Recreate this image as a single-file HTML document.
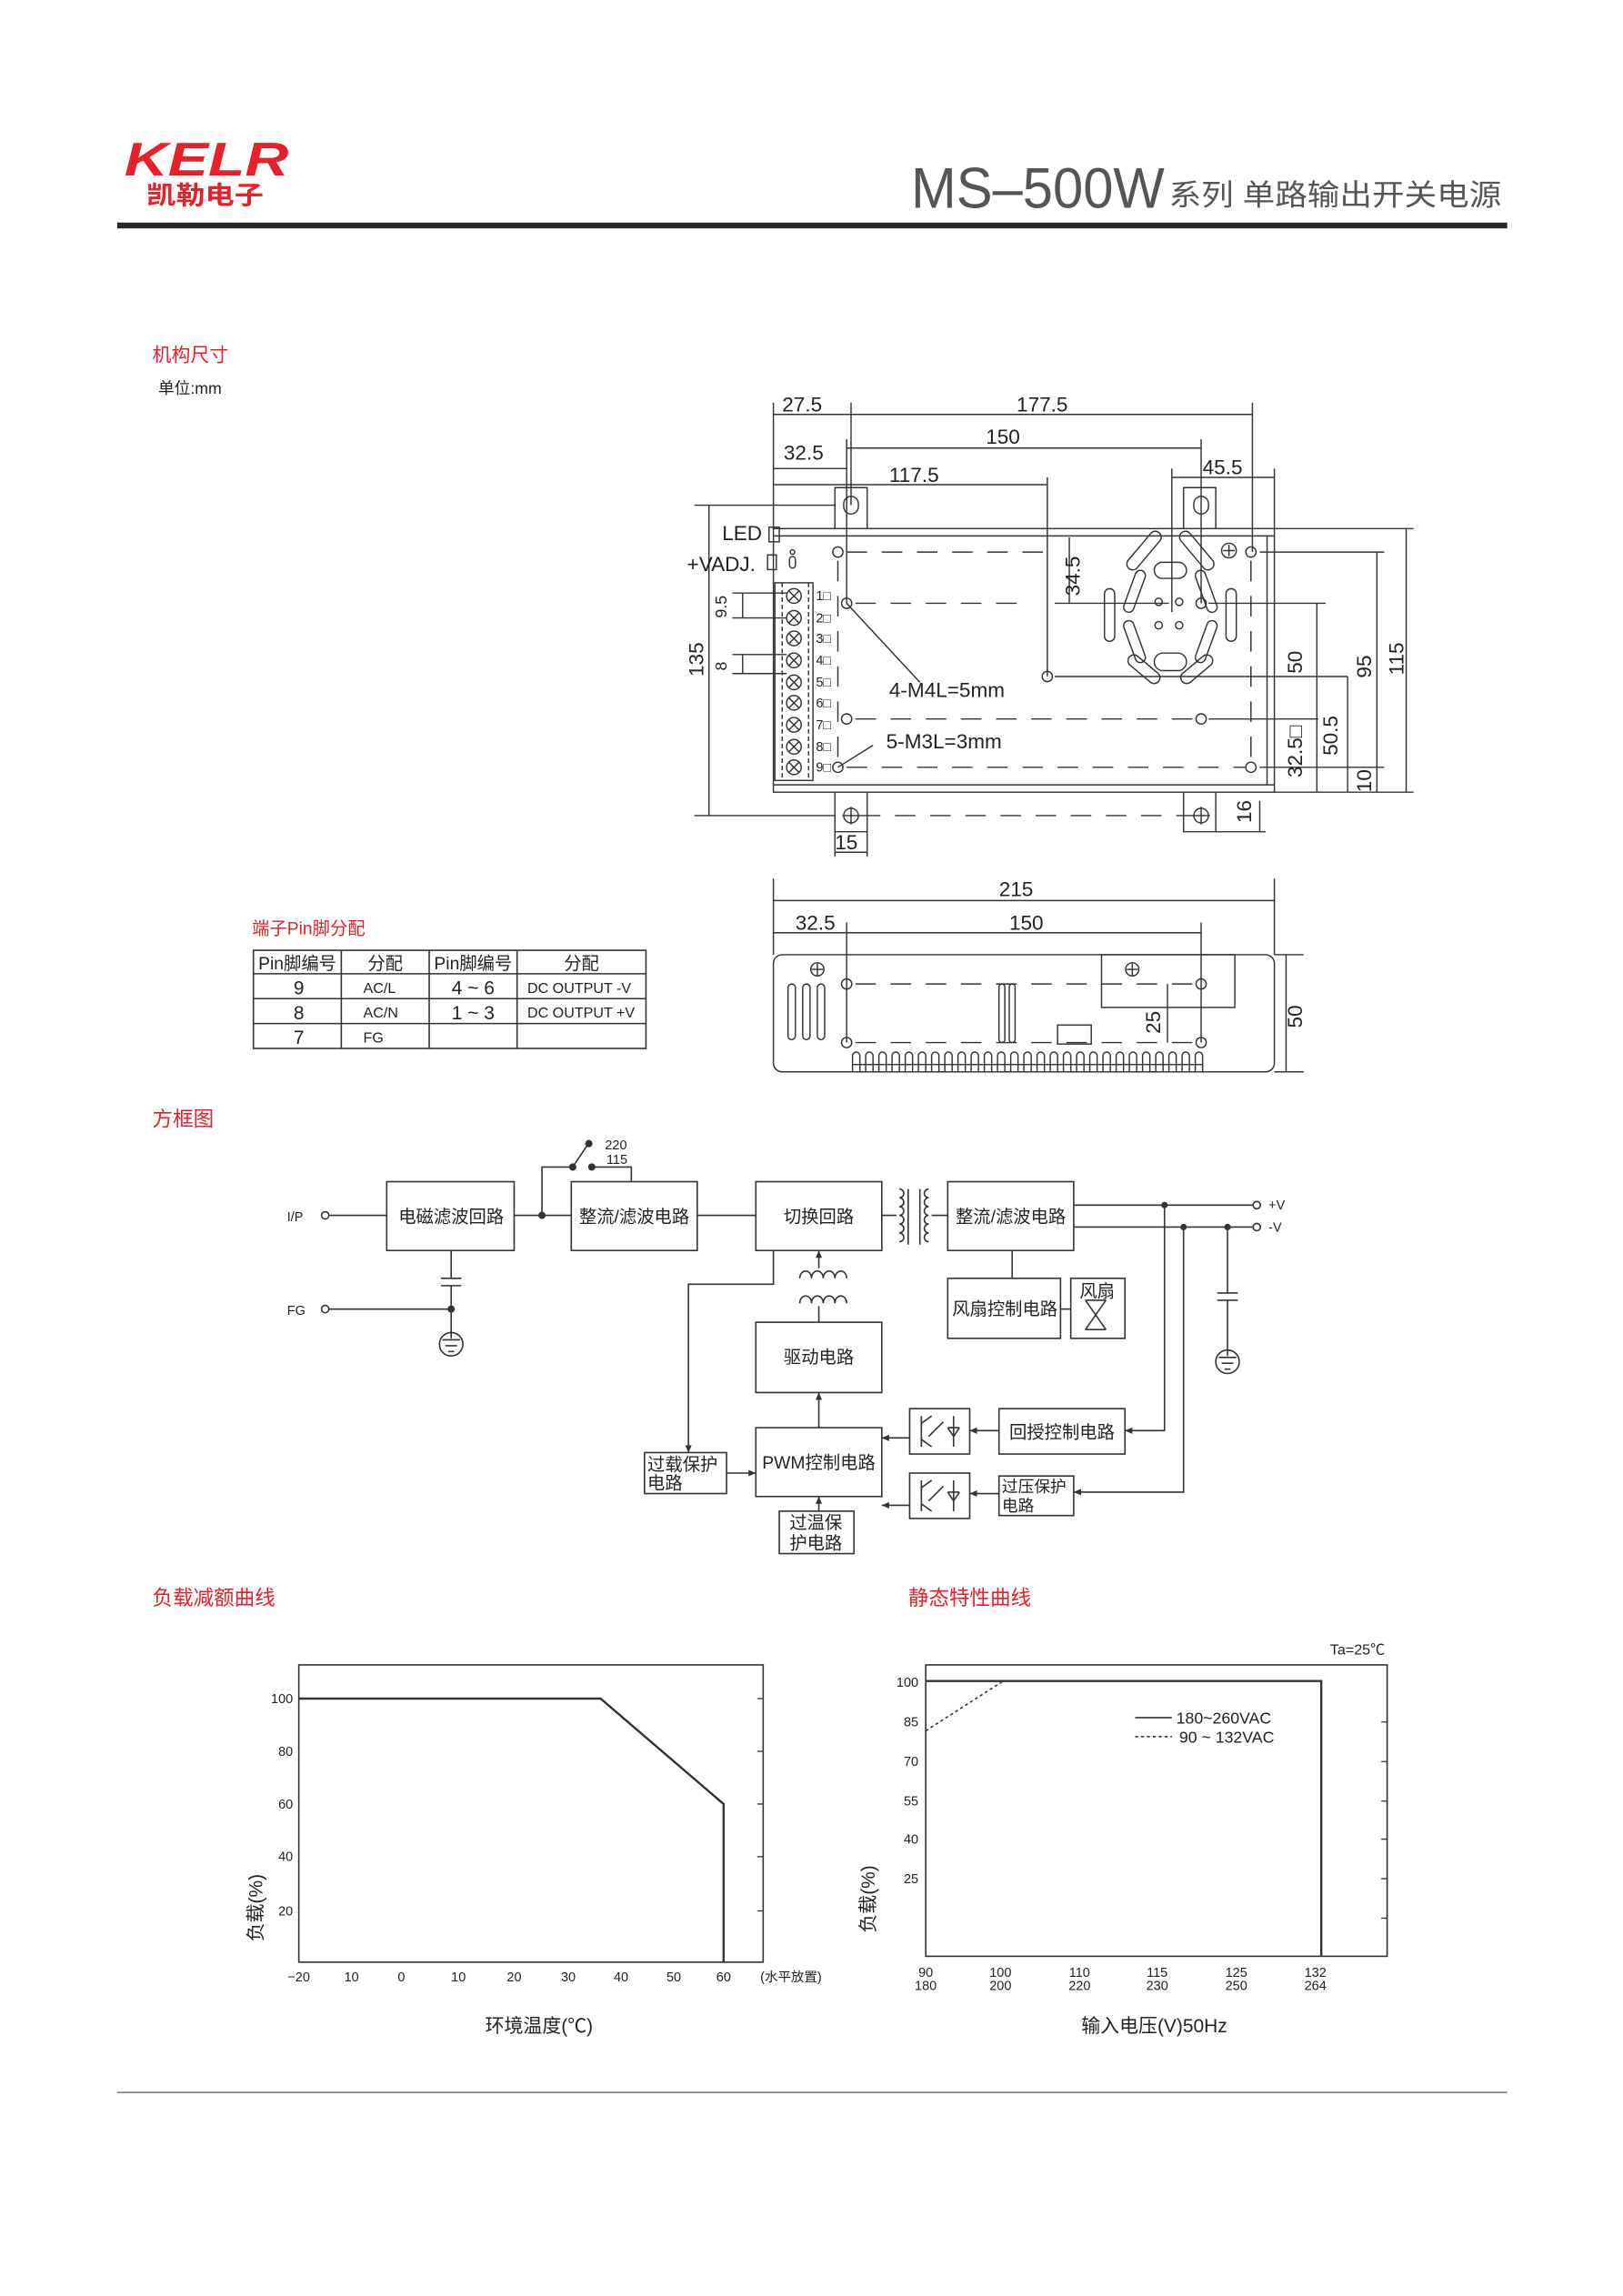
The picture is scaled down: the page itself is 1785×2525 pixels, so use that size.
<!DOCTYPE html>
<html><head><meta charset="utf-8"><style>
html,body{margin:0;padding:0;background:#fff}
svg{display:block}
text{font-family:"Liberation Sans","Noto Sans CJK SC",sans-serif;fill:#222}
</style></head><body>
<svg width="1785" height="2525" viewBox="0 0 1108 1568" preserveAspectRatio="none" xmlns="http://www.w3.org/2000/svg">
<g stroke="#333" stroke-width="1" fill="none">
<rect x="80" y="152" width="949" height="4" fill="#2a2626" stroke="none"/>
<line x1="80" y1="1429" x2="1029" y2="1429" stroke="#555" stroke-width="0.8"/>
</g>
<text x="85" y="120" font-size="32" font-style="italic" font-weight="bold" textLength="112" lengthAdjust="spacingAndGlyphs" style="fill:#e8202a">KELR</text>
<text x="100" y="139" font-size="17" font-weight="bold" textLength="80" lengthAdjust="spacingAndGlyphs" style="fill:#e8202a">凯勒电子</text>
<text x="622" y="142" font-size="39" textLength="173" lengthAdjust="spacingAndGlyphs" style="fill:#555">MS–500W</text>
<text x="798" y="140" font-size="20" textLength="227" lengthAdjust="spacingAndGlyphs" style="fill:#555">系列 单路输出开关电源</text>

<text x="104" y="247" font-size="13" style="fill:#e8202a">机构尺寸</text>
<text x="108" y="269" font-size="11">单位:mm</text>

<!-- ===== top view ===== -->
<g stroke="#333" stroke-width="0.9" fill="none">
<rect x="528" y="361" width="342" height="180"/>
<line x1="528" y1="366" x2="870" y2="366"/>
<line x1="528" y1="536" x2="870" y2="536"/>
<line x1="865" y1="366" x2="865" y2="536"/>
<path d="M570 361 V333 H592 V361"/><path d="M808 361 V333 H830 V361"/>
<path d="M570 541 V568 H592 V541"/><path d="M808 541 V568 H830 V541"/>
<rect x="576" y="339" width="10" height="12" rx="5"/><rect x="815" y="339" width="10" height="12" rx="5"/>
<circle cx="581" cy="557" r="5"/><line x1="575" y1="557" x2="587" y2="557"/><line x1="581" y1="551" x2="581" y2="563"/>
<circle cx="820" cy="557" r="5"/><line x1="814" y1="557" x2="826" y2="557"/><line x1="820" y1="551" x2="820" y2="563"/>
<rect x="525" y="360" width="7" height="10"/>
<rect x="524" y="379" width="6" height="10"/>
<circle cx="541" cy="377" r="1.5"/><rect x="539" y="380" width="4" height="8" rx="2"/>
<rect x="529" y="398" width="26" height="135"/>
<line x1="534" y1="398" x2="534" y2="533" stroke-dasharray="3,2"/>
<line x1="552" y1="398" x2="552" y2="533" stroke-dasharray="3,2"/>
<g>
<circle cx="542" cy="407" r="5"/><circle cx="542" cy="422" r="5"/><circle cx="542" cy="436" r="5"/><circle cx="542" cy="451" r="5"/><circle cx="542" cy="466" r="5"/><circle cx="542" cy="480" r="5"/><circle cx="542" cy="495" r="5"/><circle cx="542" cy="510" r="5"/><circle cx="542" cy="524" r="5"/>
<path d="M538.5 403.5l7 7m0-7l-7 7M538.5 418.5l7 7m0-7l-7 7M538.5 432.5l7 7m0-7l-7 7M538.5 447.5l7 7m0-7l-7 7M538.5 462.5l7 7m0-7l-7 7M538.5 476.5l7 7m0-7l-7 7M538.5 491.5l7 7m0-7l-7 7M538.5 506.5l7 7m0-7l-7 7M538.5 520.5l7 7m0-7l-7 7"/>
</g>
<g>
<circle cx="572" cy="377" r="3.5"/><circle cx="854" cy="377" r="3.5"/><circle cx="578" cy="412" r="3.5"/><circle cx="820" cy="412" r="3.5"/><circle cx="715" cy="462" r="3.5"/><circle cx="578" cy="491" r="3.5"/><circle cx="820" cy="491" r="3.5"/><circle cx="572" cy="524" r="3.5"/><circle cx="854" cy="524" r="3.5"/>
<circle cx="839" cy="376" r="5"/><path d="M839 372v8M835 376h8"/>
</g>
<g stroke-dasharray="14,10">
<line x1="578" y1="377" x2="720" y2="377"/><line x1="584" y1="412" x2="700" y2="412"/>
<line x1="584" y1="491" x2="815" y2="491"/><line x1="578" y1="524" x2="850" y2="524"/>
<line x1="572" y1="383" x2="572" y2="520"/><line x1="854" y1="383" x2="854" y2="520"/>
<line x1="587" y1="557" x2="815" y2="557"/>
</g>
<g>
<rect x="788" y="384" width="22" height="11" rx="5.5"/><rect x="788" y="446" width="22" height="12" rx="6"/>
<rect x="754" y="402" width="7" height="36" rx="3.5"/><rect x="837" y="402" width="7" height="36" rx="3.5"/>
<rect x="777" y="360" width="8" height="32" rx="4" transform="rotate(40 781 376)"/>
<rect x="813" y="360" width="8" height="32" rx="4" transform="rotate(-40 817 376)"/>
<rect x="771" y="389" width="7" height="30" rx="3.5" transform="rotate(20 775 404)"/>
<rect x="820" y="389" width="7" height="30" rx="3.5" transform="rotate(-20 823 404)"/>
<rect x="771" y="423" width="7" height="30" rx="3.5" transform="rotate(-20 775 438)"/>
<rect x="820" y="423" width="7" height="30" rx="3.5" transform="rotate(20 823 438)"/>
<rect x="777" y="444" width="8" height="26" rx="4" transform="rotate(-50 781 457)"/>
<rect x="813" y="444" width="8" height="26" rx="4" transform="rotate(50 817 457)"/>
<circle cx="791" cy="411" r="2.5"/><circle cx="805" cy="411" r="2.5"/><circle cx="791" cy="427" r="2.5"/><circle cx="805" cy="427" r="2.5"/>
</g>
<line x1="528" y1="275" x2="528" y2="361"/><line x1="581" y1="275" x2="581" y2="345"/>
<line x1="578" y1="300" x2="578" y2="412"/><line x1="820" y1="300" x2="820" y2="412"/>
<line x1="715" y1="326" x2="715" y2="462"/><line x1="800" y1="320" x2="800" y2="418"/>
<line x1="870" y1="320" x2="870" y2="361"/><line x1="855" y1="275" x2="855" y2="377"/>
<line x1="528" y1="283" x2="581" y2="283"/><line x1="581" y1="283" x2="855" y2="283"/>
<line x1="578" y1="306" x2="820" y2="306"/><line x1="528" y1="320" x2="578" y2="320"/>
<line x1="528" y1="331" x2="715" y2="331"/><line x1="800" y1="326" x2="870" y2="326"/>
<line x1="720" y1="412" x2="798" y2="412"/><line x1="730" y1="367" x2="730" y2="412"/>
<line x1="474" y1="345" x2="570" y2="345"/><line x1="474" y1="557" x2="570" y2="557"/>
<line x1="484" y1="345" x2="484" y2="557"/>
<line x1="500" y1="405" x2="537" y2="405"/><line x1="500" y1="422" x2="537" y2="422"/><line x1="507" y1="405" x2="507" y2="422"/>
<line x1="500" y1="447" x2="537" y2="447"/><line x1="500" y1="460" x2="537" y2="460"/><line x1="507" y1="447" x2="507" y2="460"/>
<line x1="578" y1="412" x2="628" y2="466"/><line x1="572" y1="524" x2="596" y2="509"/>
<line x1="870" y1="361" x2="965" y2="361"/><line x1="870" y1="541" x2="965" y2="541"/>
<line x1="860" y1="377" x2="945" y2="377"/><line x1="860" y1="524" x2="945" y2="524"/>
<line x1="825" y1="412" x2="905" y2="412"/><line x1="720" y1="462" x2="920" y2="462"/>
<line x1="825" y1="491" x2="900" y2="491"/>
<line x1="960" y1="361" x2="960" y2="541"/><line x1="940" y1="377" x2="940" y2="541"/>
<line x1="920" y1="462" x2="920" y2="541"/><line x1="899" y1="412" x2="899" y2="541"/>
<line x1="830" y1="568" x2="864" y2="568"/><line x1="860" y1="547" x2="860" y2="568"/>
<line x1="570" y1="568" x2="570" y2="585"/><line x1="592" y1="568" x2="592" y2="585"/><line x1="570" y1="582" x2="592" y2="582"/>
</g>
<g font-size="14">
<text x="534" y="281">27.5</text><text x="694" y="281">177.5</text><text x="673" y="303">150</text>
<text x="535" y="314">32.5</text><text x="607" y="329">117.5</text><text x="821" y="324">45.5</text>
<text x="493" y="369">LED</text><text x="469" y="390">+VADJ.</text>
<text x="607" y="476">4-M4L=5mm</text><text x="605" y="511">5-M3L=3mm</text>
<text x="570" y="580">15</text>
</g>
<g font-size="9"><text x="557" y="410">1□</text><text x="557" y="425">2□</text><text x="557" y="439">3□</text><text x="557" y="454">4□</text><text x="557" y="469">5□</text><text x="557" y="483">6□</text><text x="557" y="498">7□</text><text x="557" y="513">8□</text><text x="557" y="527">9□</text></g>
<g font-size="14">
<text transform="translate(480,462) rotate(-90)">135</text>
<text transform="translate(496,422) rotate(-90)" font-size="11">9.5</text>
<text transform="translate(496,458) rotate(-90)" font-size="11">8</text>
<text transform="translate(737,407) rotate(-90)">34.5</text>
<text transform="translate(889,460) rotate(-90)">50</text>
<text transform="translate(889,531) rotate(-90)">32.5□</text>
<text transform="translate(913,516) rotate(-90)">50.5</text>
<text transform="translate(936,463) rotate(-90)">95</text>
<text transform="translate(936,541) rotate(-90)">10</text>
<text transform="translate(958,461) rotate(-90)">115</text>
<text transform="translate(854,562) rotate(-90)">16</text>
</g>

<!-- ===== side view ===== -->
<g stroke="#333" stroke-width="0.9" fill="none">
<rect x="528" y="652" width="342" height="80" rx="6"/>
<line x1="528" y1="600" x2="528" y2="652"/><line x1="870" y1="600" x2="870" y2="652"/>
<line x1="528" y1="615" x2="870" y2="615"/>
<line x1="528" y1="637" x2="578" y2="637"/><line x1="578" y1="637" x2="820" y2="637"/>
<line x1="578" y1="630" x2="578" y2="712"/><line x1="820" y1="630" x2="820" y2="712"/>
<line x1="870" y1="652" x2="890" y2="652"/><line x1="870" y1="732" x2="890" y2="732"/><line x1="878" y1="652" x2="878" y2="732"/>
<line x1="797" y1="672" x2="797" y2="712"/>
<rect x="752" y="652" width="91" height="36"/>
<circle cx="558" cy="662" r="4.5"/><path d="M558 658v8M554 662h8"/>
<circle cx="773" cy="662" r="4.5"/><path d="M773 658v8M769 662h8"/>
<circle cx="578" cy="672" r="3.5"/><circle cx="820" cy="672" r="3.5"/><circle cx="578" cy="712" r="3.5"/><circle cx="820" cy="712" r="3.5"/>
<g stroke-dasharray="14,10"><line x1="584" y1="672" x2="815" y2="672"/><line x1="584" y1="712" x2="815" y2="712"/></g>
<rect x="538" y="672" width="5" height="38" rx="2.5"/><rect x="548" y="672" width="5" height="38" rx="2.5"/><rect x="558" y="672" width="5" height="38" rx="2.5"/>
<rect x="682" y="672" width="4" height="40" rx="2"/><rect x="689" y="672" width="4" height="40" rx="2"/>
<rect x="722" y="700" width="23" height="13"/>
<path d="M582 732V721a2.5 2.5 0 0 1 5 0V732M591 732V721a2.5 2.5 0 0 1 5 0V732M600 732V721a2.5 2.5 0 0 1 5 0V732M609 732V721a2.5 2.5 0 0 1 5 0V732M618 732V721a2.5 2.5 0 0 1 5 0V732M627 732V721a2.5 2.5 0 0 1 5 0V732M636 732V721a2.5 2.5 0 0 1 5 0V732M645 732V721a2.5 2.5 0 0 1 5 0V732M654 732V721a2.5 2.5 0 0 1 5 0V732M663 732V721a2.5 2.5 0 0 1 5 0V732M672 732V721a2.5 2.5 0 0 1 5 0V732M681 732V721a2.5 2.5 0 0 1 5 0V732M690 732V721a2.5 2.5 0 0 1 5 0V732M699 732V721a2.5 2.5 0 0 1 5 0V732M708 732V721a2.5 2.5 0 0 1 5 0V732M717 732V721a2.5 2.5 0 0 1 5 0V732M726 732V721a2.5 2.5 0 0 1 5 0V732M735 732V721a2.5 2.5 0 0 1 5 0V732M744 732V721a2.5 2.5 0 0 1 5 0V732M753 732V721a2.5 2.5 0 0 1 5 0V732M762 732V721a2.5 2.5 0 0 1 5 0V732M771 732V721a2.5 2.5 0 0 1 5 0V732M780 732V721a2.5 2.5 0 0 1 5 0V732M789 732V721a2.5 2.5 0 0 1 5 0V732M798 732V721a2.5 2.5 0 0 1 5 0V732M807 732V721a2.5 2.5 0 0 1 5 0V732M816 732V721a2.5 2.5 0 0 1 5 0V732"/>
<line x1="582" y1="727" x2="821" y2="727"/>
</g>
<g font-size="14"><text x="682" y="612">215</text><text x="543" y="635">32.5</text><text x="689" y="635">150</text>
<text transform="translate(792,706) rotate(-90)">25</text><text transform="translate(889,702) rotate(-90)">50</text></g>

<!-- ===== pin table ===== -->
<text x="172" y="638" font-size="12" style="fill:#e8202a">端子Pin脚分配</text>
<g stroke="#333" stroke-width="1" fill="none">
<rect x="173" y="649" width="268" height="67"/>
<line x1="173" y1="665" x2="441" y2="665"/><line x1="173" y1="682" x2="441" y2="682"/><line x1="173" y1="699" x2="441" y2="699"/>
<line x1="233" y1="649" x2="233" y2="716"/><line x1="293" y1="649" x2="293" y2="716"/><line x1="353" y1="649" x2="353" y2="716"/>
</g>
<g font-size="12" text-anchor="middle">
<text x="203" y="662">Pin脚编号</text><text x="263" y="662">分配</text><text x="323" y="662">Pin脚编号</text><text x="397" y="662">分配</text>
<text x="204" y="679" font-size="13">9</text><text x="204" y="696" font-size="13">8</text><text x="204" y="713" font-size="13">7</text>
<text x="323" y="679" font-size="13">4 ~ 6</text><text x="323" y="696" font-size="13">1 ~ 3</text>
</g>
<g font-size="10"><text x="248" y="678">AC/L</text><text x="248" y="695">AC/N</text><text x="248" y="712">FG</text>
<text x="360" y="678">DC OUTPUT -V</text><text x="360" y="695">DC OUTPUT +V</text></g>

<!-- ===== block diagram ===== -->
<text x="104" y="769" font-size="14" style="fill:#e8202a">方框图</text>
<defs><marker id="a" markerWidth="6" markerHeight="6" refX="5" refY="3" orient="auto"><path d="M0,0.8 L5,3 L0,5.2z" fill="#333"/></marker></defs>
<g stroke="#333" stroke-width="1" fill="none">
<rect x="264" y="807" width="87" height="47"/><rect x="390" y="807" width="86" height="47"/>
<rect x="516" y="807" width="86" height="47"/><rect x="647" y="807" width="86" height="47"/>
<rect x="647" y="873" width="77" height="41"/><rect x="731" y="873" width="37" height="41"/>
<rect x="516" y="903" width="86" height="48"/><rect x="516" y="975" width="86" height="47"/>
<rect x="440" y="992" width="56" height="28"/><rect x="532" y="1032" width="51" height="29"/>
<rect x="621" y="962" width="41" height="31"/><rect x="621" y="1006" width="41" height="31"/>
<rect x="682" y="962" width="86" height="31"/><rect x="682" y="1008" width="51" height="27"/>
<circle cx="222" cy="830" r="2.5"/><line x1="225" y1="830" x2="264" y2="830"/>
<circle cx="222" cy="894" r="2.5"/><line x1="225" y1="894" x2="308" y2="894"/>
<line x1="308" y1="854" x2="308" y2="873"/><line x1="301" y1="873" x2="315" y2="873"/><line x1="301" y1="878" x2="315" y2="878"/><line x1="308" y1="878" x2="308" y2="910"/>
<circle cx="308" cy="918" r="8"/><path d="M308 910v4M302 915h12M304 919h8M306 923h4"/>
<line x1="351" y1="830" x2="390" y2="830"/>
<path d="M370 830V797H391"/><line x1="391" y1="797" x2="401" y2="782"/><path d="M404 797H431V807"/>
<line x1="476" y1="830" x2="516" y2="830"/><line x1="602" y1="830" x2="612" y2="830"/><line x1="636" y1="830" x2="647" y2="830"/>
<path d="M614 812a3 3 0 0 1 0 6a3 3 0 0 1 0 6a3 3 0 0 1 0 6a3 3 0 0 1 0 6a3 3 0 0 1 0 6a3 3 0 0 1 0 6"/>
<path d="M634 812a3 3 0 0 0 0 6a3 3 0 0 0 0 6a3 3 0 0 0 0 6a3 3 0 0 0 0 6a3 3 0 0 0 0 6a3 3 0 0 0 0 6"/>
<line x1="620" y1="812" x2="620" y2="850"/><line x1="628" y1="812" x2="628" y2="850"/>
<line x1="733" y1="823" x2="855" y2="823"/><circle cx="858" cy="823" r="2.5"/>
<line x1="733" y1="838" x2="855" y2="838"/><circle cx="858" cy="838" r="2.5"/>
<line x1="838" y1="838" x2="838" y2="883"/><line x1="831" y1="883" x2="845" y2="883"/><line x1="831" y1="888" x2="845" y2="888"/><line x1="838" y1="888" x2="838" y2="922"/>
<circle cx="838" cy="930" r="8"/><path d="M838 922v4M832 927h12M834 931h8M836 935h4"/>
<path d="M795 823V977H768" marker-end="url(#a)"/>
<path d="M808 838V1019H733" marker-end="url(#a)"/>
<line x1="691" y1="854" x2="691" y2="873"/><line x1="724" y1="894" x2="731" y2="894"/>
<path d="M528 854V877H470V992" marker-end="url(#a)"/>
<line x1="559" y1="866" x2="559" y2="854" marker-end="url(#a)"/>
<path d="M546 873a4 5 0 0 1 8 0a4 5 0 0 1 8 0a4 5 0 0 1 8 0a4 5 0 0 1 8 0"/>
<path d="M546 890a4 5 0 0 1 8 0a4 5 0 0 1 8 0a4 5 0 0 1 8 0a4 5 0 0 1 8 0"/>
<line x1="559" y1="892" x2="559" y2="903"/>
<line x1="559" y1="975" x2="559" y2="951" marker-end="url(#a)"/>
<line x1="621" y1="982" x2="602" y2="982" marker-end="url(#a)"/>
<line x1="621" y1="1028" x2="602" y2="1028" marker-end="url(#a)"/>
<line x1="682" y1="977" x2="662" y2="977" marker-end="url(#a)"/>
<line x1="682" y1="1020" x2="662" y2="1020" marker-end="url(#a)"/>
<line x1="496" y1="1006" x2="516" y2="1006" marker-end="url(#a)"/>
<line x1="559" y1="1032" x2="559" y2="1022" marker-end="url(#a)"/>
<path d="M629 967v21M629 972l7 -5M629 983l7 5M640 975l-6 6M644 971l-6 6M651 967v21M647 975h8M647 975l4 6l4-6"/>
<path d="M629 1011v21M629 1016l7 -5M629 1027l7 5M640 1019l-6 6M644 1015l-6 6M651 1011v21M647 1019h8M647 1019l4 6l4-6"/>
<path d="M741 888l14 20M755 888l-14 20M741 888h14M741 908h14"/>
</g>
<g fill="#333"><circle cx="370" cy="830" r="2.5"/><circle cx="391" cy="797" r="2.5"/><circle cx="402" cy="781" r="2.5"/><circle cx="404" cy="797" r="2.5"/><circle cx="308" cy="894" r="2.5"/><circle cx="795" cy="823" r="2.2"/><circle cx="808" cy="838" r="2.2"/><circle cx="838" cy="838" r="2.2"/></g>
<g font-size="12" text-anchor="middle">
<text x="308" y="835">电磁滤波回路</text><text x="433" y="835">整流/滤波电路</text><text x="559" y="835">切换回路</text><text x="690" y="835">整流/滤波电路</text>
<text x="686" y="898">风扇控制电路</text><text x="749" y="886">风扇</text><text x="559" y="931">驱动电路</text><text x="559" y="1003">PWM控制电路</text>
<text x="725" y="982">回授控制电路</text>
</g>
<g font-size="12"><text x="442" y="1004">过载保护</text><text x="442" y="1017">电路</text>
<text x="539" y="1044">过温保</text><text x="539" y="1058">护电路</text></g>
<g font-size="11"><text x="684" y="1019">过压保护</text><text x="684" y="1032">电路</text></g>
<g font-size="9"><text x="196" y="834">I/P</text><text x="196" y="898">FG</text><text x="413" y="785">220</text><text x="414" y="795">115</text>
<text x="866" y="826">+V</text><text x="866" y="841">-V</text></g>

<!-- ===== charts ===== -->
<text x="104" y="1096" font-size="14" style="fill:#e8202a">负载减额曲线</text>
<text x="620" y="1096" font-size="14" style="fill:#e8202a">静态特性曲线</text>
<g stroke="#333" fill="none">
<rect x="204" y="1137" width="317" height="203" stroke-width="1"/>
<path d="M204 1160H410L494 1232V1340" stroke-width="1.5"/>
<path d="M517 1160h4M517 1196h4M517 1232h4M517 1268h4M517 1305h4" stroke-width="0.8"/>
<rect x="632" y="1137" width="315" height="199" stroke-width="1"/>
<path d="M632 1148H902V1336" stroke-width="1.5"/>
<path d="M632 1182L685 1148" stroke-dasharray="2,2"/>
<line x1="775" y1="1173" x2="800" y2="1173"/><line x1="775" y1="1186" x2="800" y2="1186" stroke-dasharray="2,2"/>
<path d="M943 1176h4M943 1203h4M943 1230h4M943 1256h4M943 1283h4M943 1310h4" stroke-width="0.8"/>
</g>
<g font-size="9" text-anchor="end"><text x="200" y="1163">100</text><text x="200" y="1199">80</text><text x="200" y="1235">60</text><text x="200" y="1271">40</text><text x="200" y="1308">20</text>
<text x="627" y="1152">100</text><text x="627" y="1179">85</text><text x="627" y="1206">70</text><text x="627" y="1233">55</text><text x="627" y="1259">40</text><text x="627" y="1286">25</text></g>
<g font-size="9" text-anchor="middle"><text x="204" y="1353">−20</text><text x="240" y="1353">10</text><text x="274" y="1353">0</text><text x="313" y="1353">10</text><text x="351" y="1353">20</text><text x="388" y="1353">30</text><text x="424" y="1353">40</text><text x="460" y="1353">50</text><text x="494" y="1353">60</text><text x="540" y="1353">(水平放置)</text>
<text x="632" y="1350">90</text><text x="632" y="1359">180</text><text x="683" y="1350">100</text><text x="683" y="1359">200</text><text x="737" y="1350">110</text><text x="737" y="1359">220</text><text x="790" y="1350">115</text><text x="790" y="1359">230</text><text x="844" y="1350">125</text><text x="844" y="1359">250</text><text x="898" y="1350">132</text><text x="898" y="1359">264</text></g>
<text x="908" y="1130" font-size="10">Ta=25℃</text>
<text x="803" y="1177" font-size="11">180~260VAC</text><text x="805" y="1190" font-size="11">90 ~ 132VAC</text>
<text transform="translate(179,1326) rotate(-90)" font-size="13">负载(%)</text>
<text transform="translate(597,1320) rotate(-90)" font-size="13">负载(%)</text>
<text x="368" y="1388" font-size="13" text-anchor="middle">环境温度(℃)</text>
<text x="788" y="1388" font-size="13" text-anchor="middle">输入电压(V)50Hz</text>
</svg>
</body></html>
